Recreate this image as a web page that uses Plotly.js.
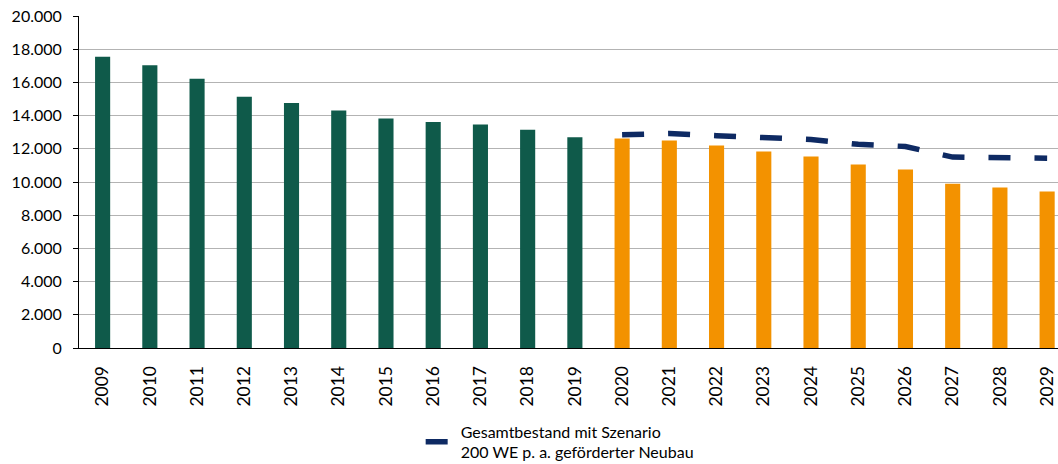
<!DOCTYPE html>
<html>
<head>
<meta charset="utf-8">
<script src="https://cdn.plot.ly/plotly-3.0.1.min.js"></script>
<style>html,body{margin:0;padding:0;background:#fff;}#chart{width:1058px;height:464px;}</style>
</head>
<body>
<div id="chart"></div>
<script>
const yearsHist = ["2009","2010","2011","2012","2013","2014","2015","2016","2017","2018","2019"];
const valuesHist = [17550, 17040, 16220, 15140, 14760, 14300, 13820, 13620, 13460, 13150, 12700];
const yearsProj = ["2020","2021","2022","2023","2024","2025","2026","2027","2028","2029"];
const valuesProj = [12620, 12500, 12200, 11840, 11540, 11050, 10760, 9900, 9670, 9430];
const scenarioValues = [12850, 12920, 12790, 12660, 12560, 12270, 12140, 11500, 11460, 11430];
const scenarioName = "Gesamtbestand mit Szenario<br>200 WE p. a. geförderter Neubau";
const yTickVals = [0, 2000, 4000, 6000, 8000, 10000, 12000, 14000, 16000, 18000, 20000];
const yTickText = ["0", "2.000", "4.000", "6.000", "8.000", "10.000", "12.000", "14.000", "16.000", "18.000", "20.000"];
const allYears = yearsHist.concat(yearsProj);

const font = "Lato, 'Open Sans', sans-serif";

const traces = [
  {type: "bar", x: yearsHist, y: valuesHist, marker: {color: "#0F5A4A"}, width: 0.32, showlegend: false, hoverinfo: "x+y"},
  {type: "bar", x: yearsProj, y: valuesProj, marker: {color: "#F39200"}, width: 0.32, showlegend: false, hoverinfo: "x+y"},
  {type: "scatter", mode: "lines", x: yearsProj, y: scenarioValues, name: scenarioName,
   line: {color: "#0E2A63", width: 5.5, dash: "22px,24px"}, showlegend: true}
];

const layout = {
  width: 1058, height: 464,
  margin: {l: 79, r: 0, t: 16, b: 116, autoexpand: false},
  paper_bgcolor: "#ffffff", plot_bgcolor: "#ffffff",
  font: {family: font, size: 16, color: "#000"},
  barmode: "overlay",
  xaxis: {
    type: "category", categoryorder: "array", categoryarray: allYears,
    range: [-0.5, 20.23], tickangle: -90, showgrid: false, automargin: false,
    showline: true, linecolor: "#000", linewidth: 1, ticks: "",
    ticklabelstandoff: 10,
    tickfont: {family: font, size: 17.5, color: "#000"}, fixedrange: true
  },
  yaxis: {
    range: [0, 20000], tickvals: yTickVals, ticktext: yTickText, automargin: false,
    showgrid: true, gridcolor: "#b3b3b3", gridwidth: 1,
    showline: true, linecolor: "#000", linewidth: 1,
    ticks: "outside", ticklen: 5, tickcolor: "#000",
    ticklabelstandoff: 8,
    tickfont: {family: font, size: 16, color: "#000"}, zeroline: false, fixedrange: true
  },
  legend: {orientation: "h", x: 0.349, xanchor: "left", y: -0.2, yanchor: "top",
           font: {family: font, size: 16, color: "#000"}, bgcolor: "rgba(0,0,0,0)"},
  showlegend: true
};

Plotly.newPlot("chart", traces, layout, {displayModeBar: false, staticPlot: true});
</script>
</body>
</html>
